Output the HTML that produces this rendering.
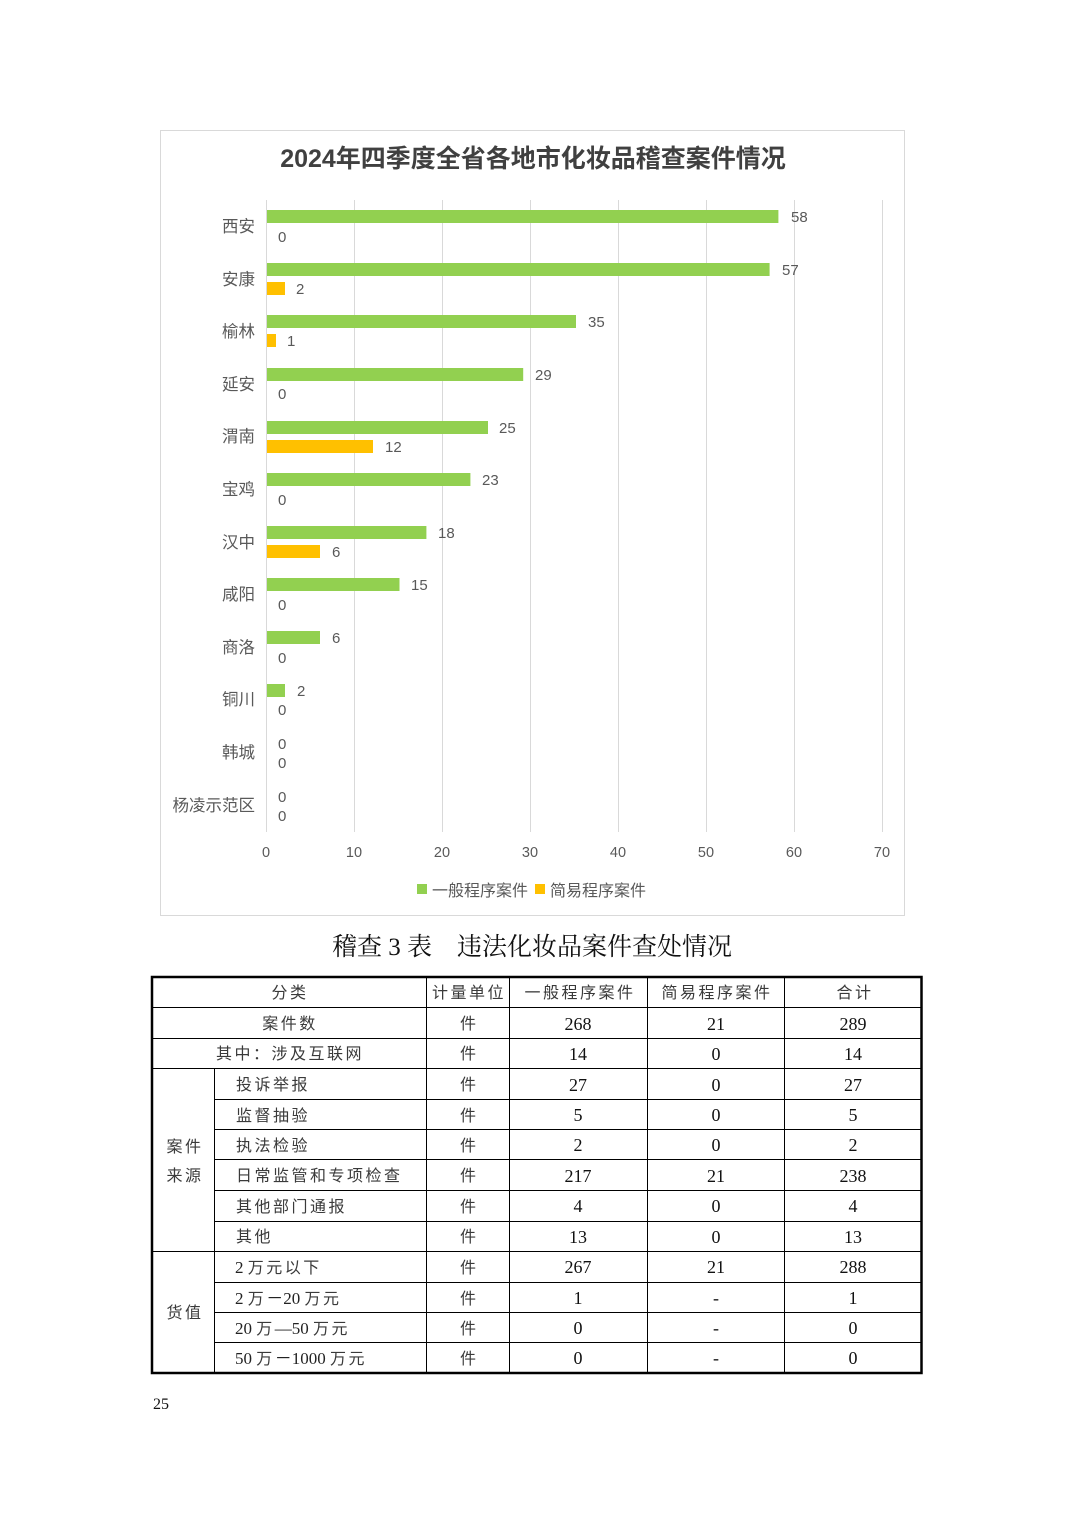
<!DOCTYPE html>
<html>
<head>
<meta charset="utf-8">
<style>
html,body{margin:0;padding:0;background:#fff;}
svg{display:block;}
</style>
</head>
<body>
<svg width="1074" height="1520" viewBox="0 0 1074 1520" xmlns="http://www.w3.org/2000/svg">
<rect x="0" y="0" width="1074" height="1520" fill="#fff"/>
<!-- chart frame -->
<rect x="160.5" y="130.5" width="744" height="785" fill="#fff" stroke="#d9d9d9" stroke-width="1"/>
<text x="533" y="167" text-anchor="middle" font-family="'Liberation Sans','Noto Sans CJK SC',sans-serif" font-weight="bold" font-size="25" fill="#404040">2024年四季度全省各地市化妆品稽查案件情况</text>
<!-- gridlines -->
<g stroke="#d9d9d9" stroke-width="1">
<line x1="266.5" y1="200" x2="266.5" y2="832"/>
<line x1="354.5" y1="200" x2="354.5" y2="832"/>
<line x1="442.5" y1="200" x2="442.5" y2="832"/>
<line x1="530.5" y1="200" x2="530.5" y2="832"/>
<line x1="618.5" y1="200" x2="618.5" y2="832"/>
<line x1="706.5" y1="200" x2="706.5" y2="832"/>
<line x1="794.5" y1="200" x2="794.5" y2="832"/>
<line x1="882.5" y1="200" x2="882.5" y2="832"/>
</g>
<!-- tick labels -->
<g font-family="'Liberation Sans','Noto Sans CJK SC',sans-serif" font-size="14.5" fill="#595959" text-anchor="middle">
<text x="266" y="857">0</text>
<text x="354" y="857">10</text>
<text x="442" y="857">20</text>
<text x="530" y="857">30</text>
<text x="618" y="857">40</text>
<text x="706" y="857">50</text>
<text x="794" y="857">60</text>
<text x="882" y="857">70</text>
</g>
<!-- category labels -->
<g font-family="'Liberation Sans','Noto Sans CJK SC',sans-serif" font-size="16.5" fill="#595959" text-anchor="end">
<text x="255" y="232">西安</text>
<text x="255" y="285">安康</text>
<text x="255" y="337">榆林</text>
<text x="255" y="390">延安</text>
<text x="255" y="442">渭南</text>
<text x="255" y="495">宝鸡</text>
<text x="255" y="548">汉中</text>
<text x="255" y="600">咸阳</text>
<text x="255" y="653">商洛</text>
<text x="255" y="705">铜川</text>
<text x="255" y="758">韩城</text>
<text x="255" y="811">杨凌示范区</text>
</g>
<!-- bars green -->
<g fill="#92D050">
<rect x="267" y="210" width="511.4" height="13"/>
<rect x="267" y="263" width="502.6" height="13"/>
<rect x="267" y="315" width="309" height="13"/>
<rect x="267" y="368" width="256.2" height="13"/>
<rect x="267" y="421" width="221" height="13"/>
<rect x="267" y="473" width="203.4" height="13"/>
<rect x="267" y="526" width="159.4" height="13"/>
<rect x="267" y="578" width="132.5" height="13"/>
<rect x="267" y="631" width="53" height="13"/>
<rect x="267" y="684" width="18" height="13"/>
</g>
<g fill="#FFC000">
<rect x="267" y="282" width="18" height="13"/>
<rect x="267" y="334" width="9" height="13"/>
<rect x="267" y="440" width="106" height="13"/>
<rect x="267" y="545" width="53" height="13"/>
</g>
<!-- data labels -->
<g font-family="'Liberation Sans','Noto Sans CJK SC',sans-serif" font-size="15" fill="#595959">
<text x="791" y="222">58</text><text x="278" y="242">0</text>
<text x="782" y="275">57</text><text x="296" y="294">2</text>
<text x="588" y="327">35</text><text x="287" y="346">1</text>
<text x="535" y="380">29</text><text x="278" y="399">0</text>
<text x="499" y="433">25</text><text x="385" y="452">12</text>
<text x="482" y="485">23</text><text x="278" y="505">0</text>
<text x="438" y="538">18</text><text x="332" y="557">6</text>
<text x="411" y="590">15</text><text x="278" y="610">0</text>
<text x="332" y="643">6</text><text x="278" y="663">0</text>
<text x="297" y="696">2</text><text x="278" y="715">0</text>
<text x="278" y="749">0</text><text x="278" y="768">0</text>
<text x="278" y="802">0</text><text x="278" y="821">0</text>
</g>
<!-- legend -->
<rect x="417" y="884" width="10" height="10" fill="#92D050"/>
<text x="432" y="896" font-family="'Liberation Sans','Noto Sans CJK SC',sans-serif" font-size="16" fill="#595959">一般程序案件</text>
<rect x="535" y="884" width="10" height="10" fill="#FFC000"/>
<text x="550" y="896" font-family="'Liberation Sans','Noto Sans CJK SC',sans-serif" font-size="16" fill="#595959">简易程序案件</text>

<!-- caption -->
<text x="532" y="955" text-anchor="middle" font-family="'Liberation Serif','Noto Serif CJK SC',serif" font-size="25" fill="#111">稽查 3 表　违法化妆品案件查处情况</text>

<!-- table lines -->
<g stroke="#000" stroke-width="1">
<line x1="151" y1="1007.5" x2="922" y2="1007.5"/>
<line x1="151" y1="1038.5" x2="922" y2="1038.5"/>
<line x1="151" y1="1068.5" x2="922" y2="1068.5"/>
<line x1="214" y1="1099.5" x2="922" y2="1099.5"/>
<line x1="214" y1="1129.5" x2="922" y2="1129.5"/>
<line x1="214" y1="1159.5" x2="922" y2="1159.5"/>
<line x1="214" y1="1190.5" x2="922" y2="1190.5"/>
<line x1="214" y1="1221.5" x2="922" y2="1221.5"/>
<line x1="151" y1="1251.5" x2="922" y2="1251.5"/>
<line x1="214" y1="1282.5" x2="922" y2="1282.5"/>
<line x1="214" y1="1312.5" x2="922" y2="1312.5"/>
<line x1="214" y1="1342.5" x2="922" y2="1342.5"/>
<line x1="214.5" y1="1068" x2="214.5" y2="1373"/>
<line x1="426.5" y1="977" x2="426.5" y2="1373"/>
<line x1="509.5" y1="977" x2="509.5" y2="1373"/>
<line x1="647.5" y1="977" x2="647.5" y2="1373"/>
<line x1="784.5" y1="977" x2="784.5" y2="1373"/>
</g>
<rect x="152" y="977" width="769.5" height="396" fill="none" stroke="#000" stroke-width="2.5"/>

<!-- table text: CJK labels -->
<g font-family="'Liberation Serif','Noto Sans CJK SC',sans-serif" font-size="16" fill="#3a3a3a" letter-spacing="2.5">
<text x="290" y="998" text-anchor="middle">分类</text>
<text x="469" y="998" text-anchor="middle">计量单位</text>
<text x="580" y="998" text-anchor="middle">一般程序案件</text>
<text x="717" y="998" text-anchor="middle">简易程序案件</text>
<text x="855" y="998" text-anchor="middle">合计</text>
<text x="290" y="1029" text-anchor="middle">案件数</text>
<text x="290" y="1059" text-anchor="middle">其中：涉及互联网</text>
<text x="236" y="1090">投诉举报</text>
<text x="236" y="1121">监督抽验</text>
<text x="236" y="1151">执法检验</text>
<text x="236" y="1181">日常监管和专项检查</text>
<text x="236" y="1212">其他部门通报</text>
<text x="236" y="1242">其他</text>
<text x="185" y="1152" text-anchor="middle">案件</text>
<text x="185" y="1181" text-anchor="middle">来源</text>
<text x="185" y="1318" text-anchor="middle">货值</text>
</g>
<g font-family="'Liberation Serif','Noto Sans CJK SC',sans-serif" font-size="17" fill="#222">
<text x="235" y="1273"><tspan>2 </tspan><tspan letter-spacing="2.5" font-size="16" fill="#3a3a3a">万元以下</tspan></text>
<text x="235" y="1304"><tspan>2 </tspan><tspan letter-spacing="2.5" font-size="16" fill="#3a3a3a">万</tspan><tspan>－20 </tspan><tspan letter-spacing="2.5" font-size="16" fill="#3a3a3a">万元</tspan></text>
<text x="235" y="1334"><tspan>20 </tspan><tspan letter-spacing="2.5" font-size="16" fill="#3a3a3a">万</tspan><tspan>—50 </tspan><tspan letter-spacing="2.5" font-size="16" fill="#3a3a3a">万元</tspan></text>
<text x="235" y="1364"><tspan>50 </tspan><tspan letter-spacing="2.5" font-size="16" fill="#3a3a3a">万</tspan><tspan>－1000 </tspan><tspan letter-spacing="2.5" font-size="16" fill="#3a3a3a">万元</tspan></text>
</g>
<!-- unit column -->
<g font-family="'Liberation Serif','Noto Sans CJK SC',sans-serif" font-size="16" fill="#3a3a3a" text-anchor="middle">
<text x="468" y="1029">件</text>
<text x="468" y="1059">件</text>
<text x="468" y="1090">件</text>
<text x="468" y="1121">件</text>
<text x="468" y="1151">件</text>
<text x="468" y="1181">件</text>
<text x="468" y="1212">件</text>
<text x="468" y="1242">件</text>
<text x="468" y="1273">件</text>
<text x="468" y="1304">件</text>
<text x="468" y="1334">件</text>
<text x="468" y="1364">件</text>
</g>
<!-- numbers -->
<g font-family="'Liberation Serif',serif" font-size="18" fill="#111" text-anchor="middle">
<text x="578" y="1030">268</text><text x="716" y="1030">21</text><text x="853" y="1030">289</text>
<text x="578" y="1060">14</text><text x="716" y="1060">0</text><text x="853" y="1060">14</text>
<text x="578" y="1091">27</text><text x="716" y="1091">0</text><text x="853" y="1091">27</text>
<text x="578" y="1121">5</text><text x="716" y="1121">0</text><text x="853" y="1121">5</text>
<text x="578" y="1151">2</text><text x="716" y="1151">0</text><text x="853" y="1151">2</text>
<text x="578" y="1182">217</text><text x="716" y="1182">21</text><text x="853" y="1182">238</text>
<text x="578" y="1212">4</text><text x="716" y="1212">0</text><text x="853" y="1212">4</text>
<text x="578" y="1243">13</text><text x="716" y="1243">0</text><text x="853" y="1243">13</text>
<text x="578" y="1273">267</text><text x="716" y="1273">21</text><text x="853" y="1273">288</text>
<text x="578" y="1304">1</text><text x="716" y="1304">-</text><text x="853" y="1304">1</text>
<text x="578" y="1334">0</text><text x="716" y="1334">-</text><text x="853" y="1334">0</text>
<text x="578" y="1364">0</text><text x="716" y="1364">-</text><text x="853" y="1364">0</text>
</g>
<!-- page number -->
<text x="153" y="1409" font-family="'Liberation Serif',serif" font-size="16" fill="#111">25</text>
</svg>
</body>
</html>
